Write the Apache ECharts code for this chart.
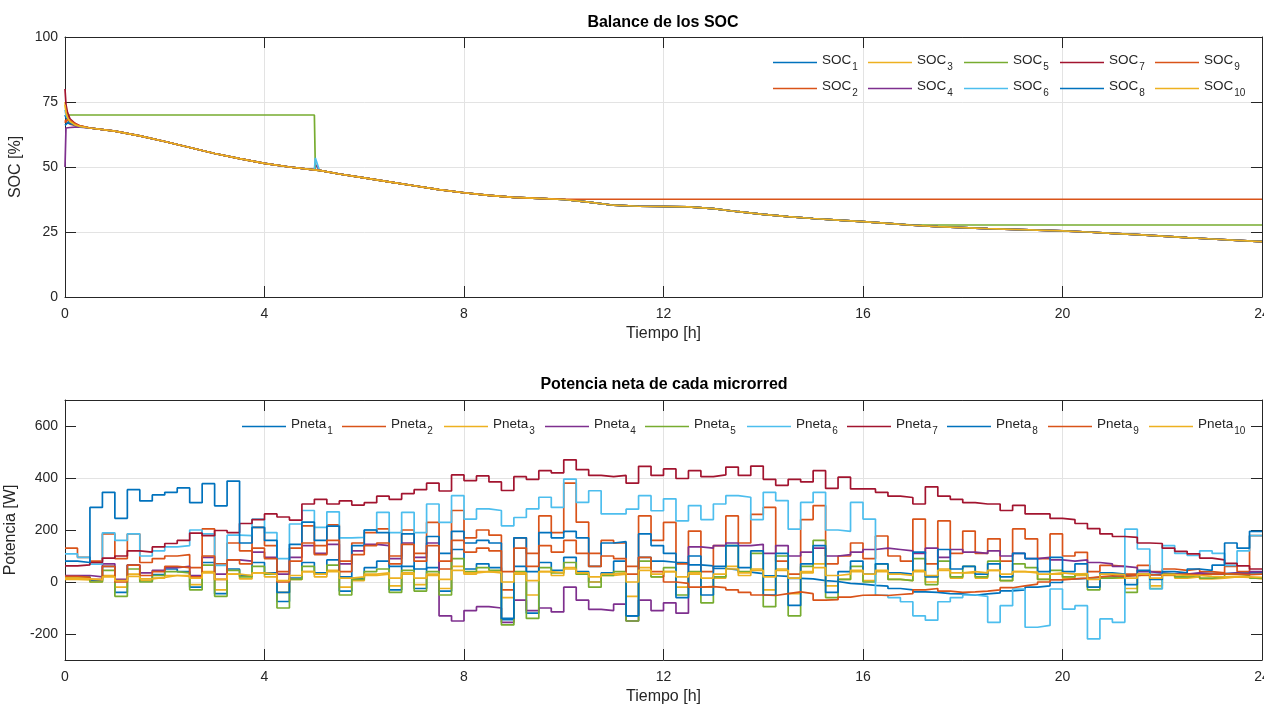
<!DOCTYPE html>
<html><head><meta charset="utf-8">
<script src="https://cdn.jsdelivr.net/npm/echarts@6/dist/echarts.min.js"></script>
<style>html,body{margin:0;padding:0;background:#fff}#c{width:1264px;height:709px}</style>
</head><body><div id="c"></div>
<script>
// ---------- DATA ----------
const socNames = ['SOC_1','SOC_2','SOC_3','SOC_4','SOC_5','SOC_6','SOC_7','SOC_8','SOC_9','SOC_10'];
const pnetaNames = ['Pneta_1','Pneta_2','Pneta_3','Pneta_4','Pneta_5','Pneta_6','Pneta_7','Pneta_8','Pneta_9','Pneta_10'];
const xTicks = [0,4,8,12,16,20,24];
const socTicks = [0,25,50,75,100];
const potTicks = [-200,0,200,400,600];

// SOC: initial transient times and values
const socHeadTime = [0,0.02,0.05,0.1,0.2,0.3];
const soc1Head = [70,69,68,67,66,65.5];
const soc2Head = [68,67.5,67,66.5,66,65.5];
const soc3Head = [75,72,70,68,66.5,65.8];
const soc4Head = [50,65,65,65.2,65.3,65.3];
const soc5Head = [70,70,70,70,70,70];
const soc6Head = [72,70,69,67.5,66.3,65.6];
const soc7Head = [80,74,71,68.5,66.8,65.8];
const soc8Head = [66,66.5,67,66.8,66.2,65.6];
const soc9Head = [67,68,68.5,68,66.7,65.8];
const soc10Head = [74,71,69,67.5,66.2,65.6];
// SOC: body times (h)
const socTime = [0.5,1,1.5,2,2.5,3,3.5,4,4.5,5,5.02,5.1,5.5,6,6.5,7,7.5,8,8.5,9,9.5,10,10.5,11,11.5,12,12.5,13,13.5,14,14.5,15,15.5,16,16.5,17,17.5,18,18.5,19,19.5,20,20.5,21,21.5,22,22.5,23,23.5,24];
const socCommon = [65,63.8,62,59.8,57.5,55.2,53.2,51.4,50,48.9, 48.8,48.7,47.3,45.8,44.3,42.8,41.3,40.1,39.1,38.3, 37.9,37.5,36.5,35.3,34.9,34.8,34.7,34,32.8,31.8, 30.9,30.2,29.6,29,28.3,27.6,27.1,26.7,26.3,26, 25.7,25.4,25,24.5,24,23.4,22.8,22.3,21.8,21.3];
const soc4Body = [65,63.8,62,59.8,57.5,55.2,53.2,51.4,50,48.9, 51,48.7,47.3,45.8,44.3,42.8,41.3,40.1,39.1,38.3, 37.9,37.5,36.5,35.3,34.9,34.8,34.7,34,32.8,31.8, 30.9,30.2,29.6,29,28.3,27.6,27.1,26.7,26.3,26, 25.7,25.4,25,24.5,24,23.4,22.8,22.3,21.8,21.3];
const soc5Body = [70,70,70,70,70,70,70,70,70,70, 48.8,48.7,47.3,45.8,44.3,42.8,41.3,40.1,39.1,38.3, 37.9,37.5,36.5,35.3,34.9,34.8,34.7,34,32.8,31.8, 30.9,30.2,29.6,29,28.3,27.7,27.7,27.7,27.7,27.7, 27.7,27.7,27.7,27.7,27.7,27.7,27.7,27.7,27.7,27.7];
const soc6Body = [65,63.8,62,59.8,57.5,55.2,53.2,51.4,50,48.9, 53.5,48.7,47.3,45.8,44.3,42.8,41.3,40.1,39.1,38.3, 37.9,37.5,36.5,35.3,34.9,34.8,34.7,34,32.8,31.8, 30.9,30.2,29.6,29,28.3,27.6,27.1,26.7,26.3,26, 25.7,25.4,25,24.5,24,23.4,22.8,22.3,21.8,21.3];
const soc9Body = [65,63.8,62,59.8,57.5,55.2,53.2,51.4,50,48.9, 48.8,48.7,47.3,45.8,44.3,42.8,41.3,40.1,39.1,38.3, 37.9,37.6,37.6,37.6,37.6,37.6,37.6,37.6,37.6,37.6, 37.6,37.6,37.6,37.6,37.6,37.6,37.6,37.6,37.6,37.6, 37.6,37.6,37.6,37.6,37.6,37.6,37.6,37.6,37.6,37.6];

// Pneta: one value per quarter hour (0-0.25, 0.25-0.5, ... 23.75-24)
const stepHours = 0.25;
const pneta1 = [22,20,5,60,-40,65,5,28, 50,40,-20,75,-45,50,25,75, 35,-75,15,75,35,85,-35,15, 55,80,-30,60,-25,55,-35,125, 50,70,55,-145,60,-120,75,45, 95,40,0,35,80,-130,95,80, 76,74,66,62,52,47,38,32, 24,22,14,12,5,2,-5,-8, -13,-16,-25,-30,-38,-40,-45,-46, -51,-46,-42,-34,-30,-20,-15,-2, 12,14,18,20,24,25,28,29, 30,30,32,33,32,34,35,35];
const pneta2 = [130,95,80,185,90,185,75,90, 100,105,55,204,70,150,120,210, 140,40,130,216,140,220,80,150, 190,204,100,200,110,229,50,275, 170,200,180,-30,170,110,254,190, 380,230,110,160,150,60,254,160, 229,70,196,40,140,254,150,260, 287,80,30,240,294,70,100,150, 90,177,100,80,242,70,235,110, 196,110,166,80,204,166,90,185, 100,114,40,64,60,30,64,40, 50,45,50,40,35,60,40,178];
const pneta3 = [10,8,0,25,-20,30,5,15, 25,22,-10,40,-30,30,12,35, 20,-40,10,40,20,45,-20,5, 25,30,-15,30,-10,25,-25,60, 30,40,35,-60,30,-50,40,25, 55,30,0,25,30,-55,55,20, 40,-20,30,-20,15,60,25,50, -30,50,-45,35,70,-15,10,40, 5,40,10,5,45,0,50,15, 35,15,45,5,40,35,10,30, 15,25,-20,15,15,-25,25,-15, 25,15,20,12,15,20,18,12];
const pneta4 = [25,25,20,70,10,65,35,45, 55,60,25,95,30,85,80,115, 95,30,95,140,110,145,70,120, 145,140,90,150,95,150,-130,-150, -110,-95,-100,-155,-70,-110,-100,-115, -20,-70,-105,-110,-85,-150,-70,-110, -80,-120,135,130,140,150,140,145, 110,140,100,115,130,100,105,115, 125,130,125,120,110,130,95,125, 115,110,120,100,110,90,95,85, 80,85,75,70,60,55,40,35, 30,30,35,30,30,35,30,40];
const pneta5 = [20,18,0,45,-55,50,0,25, 40,35,-30,65,-55,45,20,60, 30,-100,10,60,30,65,-50,10, 40,50,-40,45,-35,40,-50,90, 40,55,45,-165,40,-140,55,35, 75,30,-20,25,40,-150,80,20, 55,-50,40,-80,20,140,40,110, -95,100,-130,60,160,-60,10,60, 0,70,10,5,90,-10,80,20, 60,20,80,5,70,55,10,45, 20,30,-30,15,20,-40,30,-25, 30,20,25,15,20,30,25,15];
const pneta6 = [108,95,69,189,160,185,100,120, 135,140,200,185,64,180,178,242, 190,90,223,275,210,270,170,172, 200,268,190,268,190,300,229,332, 242,281,275,216,248,281,326,287, 396,306,351,262,262,280,332,274, 320,235,294,240,300,332,326,240, 345,313,203,306,345,200,195,306, 242,-51,-60,-76,-130,-147,-76,-60, -50,-55,-155,-91,-27,-174,-167,-27, -104,-91,-219,-142,-155,203,127,-27, 140,110,102,120,110,64,120,178];
const pneta7 = [62,66,75,92,100,120,115,135, 148,160,188,178,198,190,225,240, 262,250,238,300,318,300,312,296, 305,330,318,340,355,380,350,412, 390,408,385,352,405,395,428,420, 470,432,410,405,410,380,445,410, 435,398,428,405,412,442,410,446, 395,372,395,385,428,360,403,358, 358,345,330,325,300,366,330,318, 305,300,300,275,295,262,262,245, 240,225,205,185,175,172,150,148, 130,118,108,92,85,72,62,50];
const pneta8 = [80,75,287,345,245,355,312,335, 345,362,305,378,293,388,150,210, 160,-40,145,230,160,215,20,140, 200,190,60,185,50,175,110,195, 150,160,150,-140,170,40,190,170, 195,170,60,150,155,-130,185,140, 110,-60,100,-50,60,140,55,120, -50,110,-90,70,140,-40,40,80, 30,70,35,30,115,20,125,50, 60,30,70,20,110,90,40,95, 40,70,-20,35,30,-10,45,10, 40,35,50,45,65,150,130,195];
const pneta9 = [22,18,10,60,0,65,25,40, 60,55,20,100,10,85,70,130, 90,0,80,150,105,160,40,105, 140,150,70,145,80,140,80,160, 115,130,120,40,130,60,140,115, 160,110,60,100,90,30,95,40, 0,-5,-20,-18,-22,-30,-40,-50, -52,-45,-38,-45,-70,-68,-58,-51, -50,-52,-48,-45,-30,-25,-35,-40, -38,-35,-30,-22,-15,-8,0,8, 12,15,20,24,22,25,28,26, 28,30,27,30,32,30,28,30];
const pneta10 = [15,12,8,20,5,22,12,18, 25,25,15,35,10,30,25,35, 30,5,25,40,30,40,15,20, 30,35,15,35,15,30,10,45, 35,40,38,0,35,5,40,35, 50,35,20,30,35,0,45,30, 40,20,35,15,30,50,35,45, 20,45,15,40,55,25,30,45, 30,45,30,25,40,25,45,35, 40,35,45,30,40,38,30,35, 30,32,10,30,28,15,30,15, 28,25,25,22,20,22,20,18];

// ---------- BUILD ----------
const colors = ['#0072BD','#D95319','#EDB120','#7E2F8E','#77AC30','#4DBEEE','#A2142F','#0072BD','#D95319','#EDB120'];
const FONT = "'Liberation Sans', Arial, Helvetica, sans-serif";
const INK = '#262626';
const socHeads = [soc1Head,soc2Head,soc3Head,soc4Head,soc5Head,soc6Head,soc7Head,soc8Head,soc9Head,soc10Head];
const socBodies = [socCommon,socCommon,socCommon,soc4Body,soc5Body,soc6Body,socCommon,socCommon,soc9Body,socCommon];
const pnetas = [pneta1,pneta2,pneta3,pneta4,pneta5,pneta6,pneta7,pneta8,pneta9,pneta10];

const series = [];
socNames.forEach((n,i) => {
  const d = socHeadTime.map((t,j)=>[t, socHeads[i][j]]).concat(socTime.map((t,j)=>[t, socBodies[i][j]]));
  series.push({name:n, type:'line', xAxisIndex:0, yAxisIndex:0, data:d, symbol:'none', showSymbol:false,
    lineStyle:{width:1.7, color:colors[i]}, itemStyle:{color:colors[i]}, animation:false});
});
pnetaNames.forEach((n,i) => {
  const v = pnetas[i];
  const d = v.map((y,k)=>[k*stepHours, y]);
  d.push([v.length*stepHours, v[v.length-1]]);
  series.push({name:n, type:'line', step:'end', xAxisIndex:2, yAxisIndex:2, data:d, symbol:'none', showSymbol:false,
    lineStyle:{width:1.7, color:colors[i]}, itemStyle:{color:colors[i]}, animation:false});
});

function xAx(grid, pos, main){
  return {gridIndex:grid, type:'value', position:pos, min:xTicks[0], max:xTicks[xTicks.length-1], interval:xTicks[1]-xTicks[0],
    axisLine:{show:true, onZero:false, lineStyle:{color:INK, width:1}},
    axisTick:{show:true, inside:true, length:11, lineStyle:{color:INK}},
    axisLabel:{show:main, fontSize:14, color:INK, fontFamily:FONT, margin:10},
    splitLine:{show:main, lineStyle:{color:'#e3e3e3', width:1}},
    name: main ? 'Tiempo [h]' : '', nameLocation:'middle', nameGap:29,
    nameTextStyle:{fontSize:16, color:INK, fontFamily:FONT}};
}
const legends = [];
const socPos = [[773,53],[773,79],[868,53],[868,79],[964,53],[964,79],[1060,53],[1060,79],[1155,53],[1155,79]];
const pnPosX = [242,342,444,545,645,747,847,947,1048,1149];
const rich = {m:{fontSize:13.5, lineHeight:16, padding:[0,0,5,0], color:INK, fontFamily:FONT},
              s:{fontSize:10, lineHeight:12, padding:[9,0,0,1], color:INK, fontFamily:FONT}};
function fmt(name){ const p = name.split('_'); return '{m|'+p[0]+'}{s|'+p[1]+'}'; }
socNames.forEach((n,i)=>legends.push({data:[n], left:socPos[i][0], top:socPos[i][1], padding:0, icon:'rect', itemWidth:44, itemHeight:1.5, selectedMode:false, formatter:fmt, textStyle:{rich}}));
pnetaNames.forEach((n,i)=>legends.push({data:[n], left:pnPosX[i], top:417, padding:0, icon:'rect', itemWidth:44, itemHeight:1.5, selectedMode:false, formatter:fmt, textStyle:{rich}}));

const option = {
  animation:false,
  backgroundColor:'#ffffff',
  textStyle:{fontFamily:FONT},
  grid:[{left:65, right:2, top:37, height:260, containLabel:false, outerBoundsMode:'none'},
        {left:65, right:2, top:400, height:260, containLabel:false, outerBoundsMode:'none'}],
  xAxis:[xAx(0,'bottom',true), xAx(0,'top',false), xAx(1,'bottom',true), xAx(1,'top',false)],
  yAxis:[
    {gridIndex:0, type:'value', position:'left', min:socTicks[0], max:socTicks[socTicks.length-1], interval:socTicks[1]-socTicks[0],
     axisLine:{show:true, onZero:false, lineStyle:{color:INK}}, axisTick:{show:true, inside:true, length:11, lineStyle:{color:INK}},
     axisLabel:{fontSize:14, color:INK, fontFamily:FONT, margin:7}, splitLine:{show:true, lineStyle:{color:'#e3e3e3'}},
     name:'SOC [%]', nameLocation:'middle', nameGap:38, nameRotate:90, nameTextStyle:{fontSize:16, color:INK, fontFamily:FONT}},
    {gridIndex:0, type:'value', position:'right', min:socTicks[0], max:socTicks[socTicks.length-1], interval:socTicks[1]-socTicks[0],
     axisLine:{show:true, onZero:false, lineStyle:{color:INK}}, axisTick:{show:true, inside:true, length:11, lineStyle:{color:INK}},
     axisLabel:{show:false}, splitLine:{show:false}},
    {gridIndex:1, type:'value', position:'left', min:-300, max:700, interval:100,
     axisLine:{show:true, onZero:false, lineStyle:{color:INK}},
     axisTick:{show:true, inside:true, length:11, lineStyle:{color:INK}, customValues:potTicks},
     axisLabel:{fontSize:14, color:INK, fontFamily:FONT, margin:7, customValues:potTicks, formatter:v => (potTicks.indexOf(v) >= 0 ? String(v) : '')},
     splitLine:{show:true, lineStyle:{color:['rgba(0,0,0,0)','#e3e3e3']}},
     name:'Potencia [W]', nameLocation:'middle', nameGap:42, nameRotate:90, nameTextStyle:{fontSize:16, color:INK, fontFamily:FONT}},
    {gridIndex:1, type:'value', position:'right', min:-300, max:700, interval:100,
     axisLine:{show:true, onZero:false, lineStyle:{color:INK}},
     axisTick:{show:true, inside:true, length:11, lineStyle:{color:INK}, customValues:potTicks},
     axisLabel:{show:false}, splitLine:{show:false}}
  ],
  legend: legends,
  graphic:[
    {type:'text', x:663, y:23, style:{text:'Balance de los SOC', fontSize:16, fontWeight:'bold', fontFamily:FONT, fill:'#000', textAlign:'center', textVerticalAlign:'middle', align:'center', verticalAlign:'middle'}},
    {type:'text', x:664, y:385, style:{text:'Potencia neta de cada microrred', fontSize:16, fontWeight:'bold', fontFamily:FONT, fill:'#000', textAlign:'center', textVerticalAlign:'middle', align:'center', verticalAlign:'middle'}}
  ],
  series: series
};
const chart = echarts.init(document.getElementById('c'), null, {renderer:'canvas'});
chart.setOption(option);
</script>
</body></html>
